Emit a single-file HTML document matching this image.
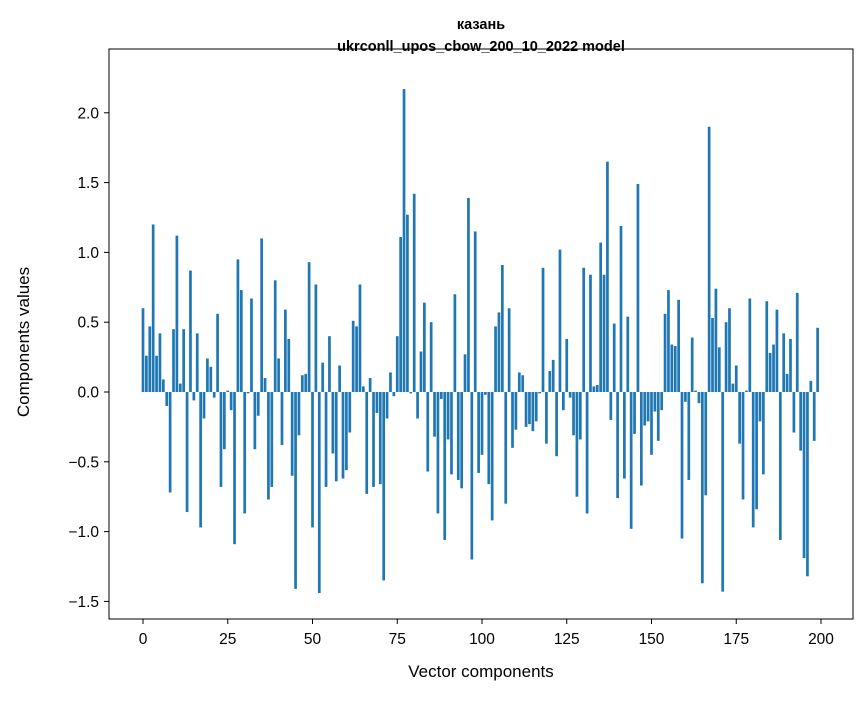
<!DOCTYPE html>
<html><head><meta charset="utf-8"><style>
body{margin:0;background:#fff;}
svg text{font-family:"Liberation Sans","DejaVu Sans",sans-serif;fill:#000;}
</style></head><body>
<svg id="chart" width="867" height="696" xmlns="http://www.w3.org/2000/svg">
<rect width="867" height="696" fill="#fff"/>
<text x="481" y="29" text-anchor="middle" font-size="14.5" font-weight="bold">казань</text>
<text x="481" y="51" text-anchor="middle" font-size="14.5" font-weight="bold">ukrconll_upos_cbow_200_10_2022 model</text>
<g id="bars"></g>
<g id="xticks"></g>
<g id="yticks"></g>
<rect x="109" y="49" width="744" height="570" fill="none" stroke="#000" stroke-width="1"/>
<text x="481" y="677" text-anchor="middle" font-size="17">Vector components</text>
<text transform="translate(29,342) rotate(-90)" text-anchor="middle" font-size="17">Components values</text>
</svg>
<script>
const values = [0.60,0.26,0.47,1.20,0.26,0.42,0.09,-0.10,-0.72,0.45,
1.12,0.06,0.45,-0.86,0.87,-0.06,0.42,-0.97,-0.19,0.24,
0.18,-0.04,0.56,-0.68,-0.41,0.01,-0.13,-1.09,0.95,0.73,
-0.87,-0.01,0.67,-0.41,-0.17,1.10,0.10,-0.77,-0.68,0.80,
0.24,-0.38,0.59,0.38,-0.60,-1.41,-0.31,0.12,0.13,0.93,
-0.97,0.77,-1.44,0.21,-0.68,0.40,-0.44,-0.64,0.19,-0.62,
-0.56,-0.29,0.51,0.47,0.77,0.04,-0.73,0.10,-0.68,-0.15,
-0.66,-1.35,-0.19,0.14,-0.03,0.40,1.11,2.17,1.27,-0.01,
1.42,-0.19,0.29,0.64,-0.57,0.50,-0.32,-0.87,-0.05,-1.06,
-0.34,-0.59,0.70,-0.63,-0.69,0.27,1.39,-1.20,1.15,-0.58,
-0.45,-0.02,-0.66,-0.92,0.47,0.57,0.91,-0.80,0.60,-0.40,
-0.27,0.14,0.12,-0.25,-0.23,-0.28,-0.21,-0.01,0.89,-0.37,
0.15,0.23,-0.46,1.02,-0.13,0.38,-0.04,-0.31,-0.75,-0.34,
0.89,-0.87,0.84,0.04,0.05,1.07,0.84,1.65,-0.20,0.49,
-0.76,1.19,-0.62,0.54,-0.98,-0.30,1.49,-0.67,-0.24,-0.21,
-0.45,-0.14,-0.35,-0.13,0.56,0.73,0.34,0.33,0.66,-1.05,
-0.07,-0.63,0.39,0.01,-0.08,-1.37,-0.74,1.90,0.53,0.74,
0.32,-1.43,0.50,0.60,0.06,0.19,-0.37,-0.77,0.01,0.67,
-0.97,-0.84,-0.21,-0.59,0.65,0.28,0.34,0.59,-1.06,0.42,
0.13,0.38,-0.29,0.71,-0.42,-1.19,-1.32,0.08,-0.35,0.46];
const xTicks = [0,25,50,75,100,125,150,175,200];
const yTicks = [-1.5,-1.0,-0.5,0.0,0.5,1.0,1.5,2.0];
const yTickLabels = ["\u22121.5","\u22121.0","\u22120.5","0.0","0.5","1.0","1.5","2.0"];

const NS="http://www.w3.org/2000/svg";
function xScale(i){return 143+i*(678/200);}
function yScale(v){return 392-v*139.6;}
const bw=0.8*678/200;
const gb=document.getElementById('bars');
values.forEach((v,i)=>{
  const r=document.createElementNS(NS,'rect');
  
  
  const y0=yScale(0), y1=yScale(v);
  r.setAttribute('x',xScale(i)-bw/2);
  r.setAttribute('y',Math.min(y0,y1));
  r.setAttribute('width',bw);
  r.setAttribute('height',Math.abs(y1-y0));
  r.setAttribute('fill','#1f77b4');
  gb.appendChild(r);
});
const gx=document.getElementById('xticks');
xTicks.forEach(t=>{
  const x=xScale(t);
  const l=document.createElementNS(NS,'line');
  
  
  l.setAttribute('x1',x);l.setAttribute('x2',x);l.setAttribute('y1',619);l.setAttribute('y2',624);
  l.setAttribute('stroke','#000');
  gx.appendChild(l);
  const tx=document.createElementNS(NS,'text');
  
  
  tx.setAttribute('x',x);tx.setAttribute('y',644);tx.setAttribute('text-anchor','middle');tx.setAttribute('font-size','15.5');
  tx.textContent=String(t);
  gx.appendChild(tx);
});
const gy=document.getElementById('yticks');
yTicks.forEach((t,k)=>{
  const y=yScale(t);
  const l=document.createElementNS(NS,'line');
  
  
  l.setAttribute('x1',104);l.setAttribute('x2',109);l.setAttribute('y1',y);l.setAttribute('y2',y);
  l.setAttribute('stroke','#000');
  gy.appendChild(l);
  const tx=document.createElementNS(NS,'text');
  
  
  tx.setAttribute('x',99);tx.setAttribute('y',y+5.5);tx.setAttribute('text-anchor','end');tx.setAttribute('font-size','15.5');
  tx.textContent=yTickLabels[k];
  gy.appendChild(tx);
});
</script>
</body></html>
